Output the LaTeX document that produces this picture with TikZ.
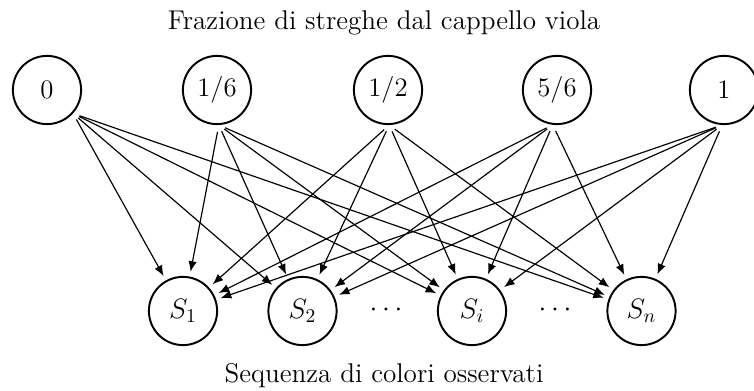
\documentclass[tikz,border=0pt]{standalone}
\usetikzlibrary{arrows.meta}
\begin{document}
\begin{tikzpicture}[x=0.513pt,y=-0.513pt,
  state/.style={circle,draw,line width=1pt,minimum size=35pt,inner sep=0pt,font=\fontsize{13.7}{16}\selectfont},
  edge/.style={line width=0.6pt,-{Latex[length=5.4pt,width=4.3pt]},shorten >=2.5pt,shorten <=3.5pt},
  caption/.style={font=\fontsize{13.9}{16}\selectfont}]
\useasboundingbox (0,0) rectangle (754,391);
\node[caption] (title) at (384,23) {Frazione di streghe dal cappello viola};
\node[caption] (foot) at (384,376) {Sequenza di colori osservati};
\node[state] (t0) at (47,90) {0};
\node[state] (t1) at (217,90) {1/6};
\node[state] (t2) at (388,90) {1/2};
\node[state] (t3) at (557,90) {5/6};
\node[state] (t4) at (724,90) {1};
\node[state] (s1) at (183,311) {$S_1$};
\node[state] (s2) at (302.5,311) {$S_2$};
\node[state] (si) at (472,311) {$S_i$};
\node[state] (sn) at (641.5,311) {$S_n$};
\node[font=\fontsize{13.7}{16}\selectfont] (d1) at (386,310) {$\cdots$};
\node[font=\fontsize{13.7}{16}\selectfont] (d2) at (555,310) {$\cdots$};
\foreach \s in {s1,s2,si,sn}{
  \draw[edge] (t0.-42) -- (\s);
  \draw[edge] (t1.-87) -- (\s);
  \draw[edge] (t2.-88) -- (\s);
  \draw[edge] (t3.-97) -- (\s);
  \draw[edge] (t4.-93) -- (\s);
}
\end{tikzpicture}
\end{document}
